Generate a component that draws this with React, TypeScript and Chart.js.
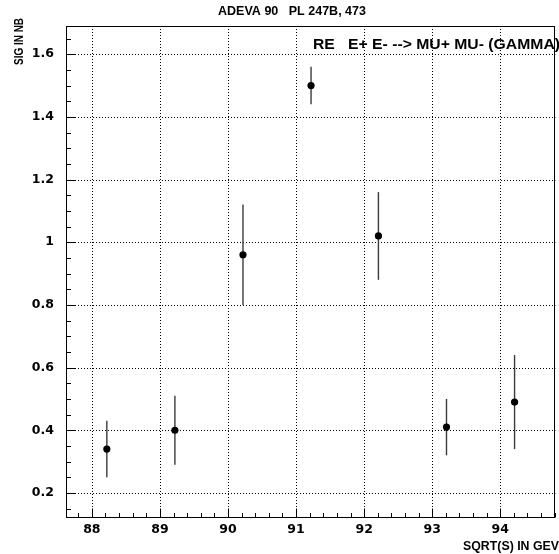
import React, { useEffect, useRef } from "react";
import { Chart, registerables } from "chart.js";

Chart.register(...registerables);

// Data
const energies = [88.22, 89.22, 90.22, 91.22, 92.21, 93.21, 94.21];
const sigma = [0.34, 0.40, 0.96, 1.50, 1.02, 0.41, 0.49];
const sigmaErr = [0.09, 0.11, 0.16, 0.06, 0.14, 0.09, 0.15];

const xRange = [87.62, 94.81];
const yRange = [0.12, 1.69];
const xMajorStep = 1;
const xMinorStep = 0.2;
const yMajorStep = 0.2;
const yMinorStep = 0.05;

const titleText = "ADEVA 90   PL 247B, 473";
const reactionText = "RE   E+ E- --> MU+ MU- (GAMMA)";
const xTitle = "SQRT(S) IN GEV";
const yTitle = "SIG IN NB";

const FONT = "'Liberation Sans', Arial, sans-serif";
const TICKFONT = "'DejaVu Sans', sans-serif";

function fitText(ctx: any, text: string, x: number, y: number, width: number) {
  const w = ctx.measureText(text).width;
  ctx.save();
  ctx.translate(x, y);
  ctx.scale(width / w, 1);
  ctx.textAlign = "left";
  ctx.fillText(text, 0, 0);
  ctx.restore();
}

export default function App() {
  const ref = useRef<HTMLCanvasElement | null>(null);

  useEffect(() => {
    document.body.style.margin = "0";
    const canvas = ref.current;
    if (!canvas) return;

    const framePlugin = {
      id: "frameGrid",
      beforeDatasetsDraw(chart: any) {
        const { ctx, chartArea, scales } = chart;
        const xs = scales.x;
        const ys = scales.y;
        ctx.save();
        // dotted grid at major ticks
        ctx.strokeStyle = "#000";
        ctx.lineWidth = 1;
        ctx.setLineDash([1, 2]);
        xs.ticks.forEach((t: any) => {
          const px = Math.round(xs.getPixelForValue(t.value)) + 0.5;
          ctx.beginPath();
          ctx.moveTo(px, chartArea.top);
          ctx.lineTo(px, chartArea.bottom);
          ctx.stroke();
        });
        ys.ticks.forEach((t: any) => {
          const py = Math.round(ys.getPixelForValue(t.value)) + 0.5;
          ctx.beginPath();
          ctx.moveTo(chartArea.left, py);
          ctx.lineTo(chartArea.right, py);
          ctx.stroke();
        });
        ctx.setLineDash([]);
        // frame
        const l = Math.round(chartArea.left) + 0.5;
        const r = Math.round(chartArea.right) - 0.5;
        const t = Math.round(chartArea.top) + 0.5;
        const b = Math.round(chartArea.bottom) - 0.5;
        ctx.lineWidth = 1;
        ctx.strokeRect(l, t, r - l, b - t);
        // ticks on bottom axis
        const xStart = Math.ceil(xRange[0] / xMinorStep - 1e-9);
        const xEnd = Math.floor(xRange[1] / xMinorStep + 1e-9);
        for (let i = xStart; i <= xEnd; i++) {
          const v = i * xMinorStep;
          const major = Math.abs(v / xMajorStep - Math.round(v / xMajorStep)) < 1e-6;
          const px = Math.round(xs.getPixelForValue(v)) + 0.5;
          ctx.beginPath();
          ctx.moveTo(px, b);
          ctx.lineTo(px, b - (major ? 9 : 4.5));
          ctx.stroke();
        }
        // ticks on left axis
        const yStart = Math.ceil(yRange[0] / yMinorStep - 1e-9);
        const yEnd = Math.floor(yRange[1] / yMinorStep + 1e-9);
        for (let i = yStart; i <= yEnd; i++) {
          const v = i * yMinorStep;
          const major = Math.abs(v / yMajorStep - Math.round(v / yMajorStep)) < 1e-6;
          const py = Math.round(ys.getPixelForValue(v)) + 0.5;
          ctx.beginPath();
          ctx.moveTo(l, py);
          ctx.lineTo(l + (major ? 9 : 4.5), py);
          ctx.stroke();
        }
        // error bars
        ctx.strokeStyle = "#3a3a3a";
        ctx.lineWidth = 1.4;
        energies.forEach((e, i) => {
          const px = xs.getPixelForValue(e);
          const y1 = ys.getPixelForValue(sigma[i] - sigmaErr[i]);
          const y2 = ys.getPixelForValue(sigma[i] + sigmaErr[i]);
          ctx.beginPath();
          ctx.moveTo(px, y1);
          ctx.lineTo(px, y2);
          ctx.stroke();
        });
        ctx.restore();
      },
      afterDraw(chart: any) {
        const { ctx } = chart;
        ctx.save();
        ctx.fillStyle = "#000";
        ctx.textBaseline = "middle";
        ctx.font = `bold 12px ${FONT}`;
        fitText(ctx, titleText, 218, 12, 148);
        ctx.font = `bold 14px ${FONT}`;
        fitText(ctx, reactionText, 313, 45, 247);
        ctx.font = `bold 12px ${FONT}`;
        fitText(ctx, xTitle, 463, 547, 96);
        ctx.translate(20, 65);
        ctx.rotate(-Math.PI / 2);
        fitText(ctx, yTitle, 0, 0, 47);
        ctx.restore();
      },
    };

    const chart = new Chart(canvas, {
      type: "scatter",
      data: {
        datasets: [
          {
            data: energies.map((e, i) => ({ x: e, y: sigma[i] })),
            backgroundColor: "#000",
            borderColor: "#000",
            borderWidth: 0,
            pointRadius: 3.6,
            pointHoverRadius: 3.6,
          },
        ],
      },
      options: {
        animation: false,
        responsive: false,
        devicePixelRatio: 1,
        events: [],
        layout: { padding: { top: 26, right: 1, left: 0, bottom: 0 } },
        plugins: {
          legend: { display: false },
          tooltip: { enabled: false },
          title: { display: false },
        },
        scales: {
          x: {
            type: "linear",
            min: xRange[0],
            max: xRange[1],
            grid: { display: false, drawTicks: false },
            border: { display: false },
            ticks: {
              stepSize: xMajorStep,
              includeBounds: false,
              padding: 4,
              color: "#000",
              font: { family: TICKFONT, weight: "bold", size: 12.5 },
              maxRotation: 0,
              callback: (v: any) => String(Math.round(Number(v))),
            },
            afterFit: (s: any) => {
              s.height = 36;
            },
          },
          y: {
            type: "linear",
            min: yRange[0],
            max: yRange[1],
            grid: { display: false, drawTicks: false },
            border: { display: false },
            ticks: {
              stepSize: yMajorStep,
              includeBounds: false,
              padding: 12,
              color: "#000",
              font: { family: TICKFONT, weight: "bold", size: 12.5 },
              callback: (v: any) => String(Number(Number(v).toFixed(2))),
            },
            afterFit: (s: any) => {
              s.width = 66;
            },
          },
        },
      },
      plugins: [framePlugin],
    });

    return () => {
      chart.destroy();
    };
  }, []);

  return (
    <div style={{ width: 559, height: 554 }}>
      <canvas ref={ref} width={559} height={554} style={{ display: "block" }} />
    </div>
  );
}
